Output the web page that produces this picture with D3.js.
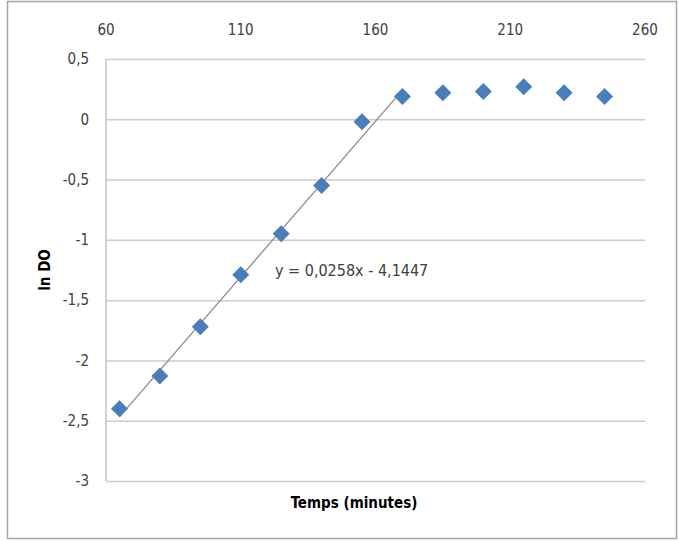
<!DOCTYPE html>
<meta charset="utf-8">
<style>
  body { margin: 0; background: #fff; }
  text { font-family: "Liberation Sans Narrow", "DejaVu Sans Condensed", "Liberation Sans", sans-serif; fill: #404040; }
</style>
<svg width="679" height="541"></svg>
<script src="https://d3js.org/d3.v7.min.js"></script>
<script>
  // data
  var minutes = [65, 80, 95, 110, 125, 140, 155, 170, 185, 200, 215, 230, 245];
  var lnDO = [-2.40, -2.13, -1.72, -1.29, -0.95, -0.55, -0.02, 0.19, 0.22, 0.23, 0.27, 0.22, 0.19];
  var xTicks = [60, 110, 160, 210, 260];
  var yTicks = [-3, -2.5, -2, -1.5, -1, -0.5, 0, 0.5];
  var trendSlope = 0.0258, trendIntercept = -4.1447;
  var trendRange = [65, 170];
  var trendLabel = "y = 0,0258x - 4,1447";

  var svg = d3.select("svg");

  // outer frame
  svg.append("rect")
    .attr("x", 7.5).attr("y", 1.5)
    .attr("width", 669).attr("height", 537)
    .attr("fill", "none").attr("stroke", "#a6a6a6").attr("stroke-width", 1.5);

  var x = d3.scaleLinear().domain([60, 260]).range([106, 645]);
  var y = d3.scaleLinear().domain([-3, 0.5]).range([481, 59]);

  var fmt = function(d) { return String(d).replace(".", ","); };

  // gridlines
  svg.append("g").selectAll("line")
    .data(yTicks)
    .enter().append("line")
      .attr("x1", x(60)).attr("x2", x(260))
      .attr("y1", function(d) { return y(d) + 0.5; })
      .attr("y2", function(d) { return y(d) + 0.5; })
      .attr("stroke", "#cccccc").attr("stroke-width", 1.5);

  // vertical axis line
  svg.append("line")
    .attr("x1", x(60)).attr("x2", x(60))
    .attr("y1", y(0.5)).attr("y2", y(-3))
    .attr("stroke", "#c4c4c4").attr("stroke-width", 1.5);

  // y tick labels
  svg.append("g").selectAll("text")
    .data(yTicks)
    .enter().append("text")
      .attr("x", 89)
      .attr("y", function(d) { return y(d); })
      .attr("dy", "0.35em")
      .attr("text-anchor", "end")
      .attr("font-size", 15)
      .text(fmt);

  // x tick labels (top)
  svg.append("g").selectAll("text")
    .data(xTicks)
    .enter().append("text")
      .attr("x", function(d) { return x(d); })
      .attr("y", 30)
      .attr("dy", "0.35em")
      .attr("text-anchor", "middle")
      .attr("font-size", 15)
      .text(fmt);

  // trendline
  svg.append("line")
    .attr("x1", x(trendRange[0]))
    .attr("y1", y(trendSlope * trendRange[0] + trendIntercept))
    .attr("x2", x(trendRange[1]))
    .attr("y2", y(trendSlope * trendRange[1] + trendIntercept))
    .attr("stroke", "#8c8c8c").attr("stroke-width", 1.3);

  // points
  var pts = minutes.map(function(m, i) { return {m: m, v: lnDO[i]}; });
  svg.append("g").selectAll("path")
    .data(pts)
    .enter().append("path")
      .attr("d", "M0,-8.5L8.5,0L0,8.5L-8.5,0Z")
      .attr("transform", function(d) { return "translate(" + x(d.m) + "," + y(d.v) + ")"; })
      .attr("fill", "#4a7ebb");

  // trend equation
  svg.append("text")
    .attr("x", 275).attr("y", 270)
    .attr("dy", "0.35em")
    .attr("font-size", 16)
    .text(trendLabel);

  // axis titles
  svg.append("text")
    .attr("transform", "translate(45,270) rotate(-90)")
    .attr("text-anchor", "middle")
    .attr("dy", "0.35em")
    .attr("font-size", 15).attr("font-weight", "bold")
    .style("fill", "#000")
    .text("ln DO");

  svg.append("text")
    .attr("x", 354).attr("y", 503)
    .attr("text-anchor", "middle")
    .attr("dy", "0.35em")
    .attr("font-size", 15).attr("font-weight", "bold")
    .style("fill", "#000")
    .text("Temps (minutes)");
</script>
